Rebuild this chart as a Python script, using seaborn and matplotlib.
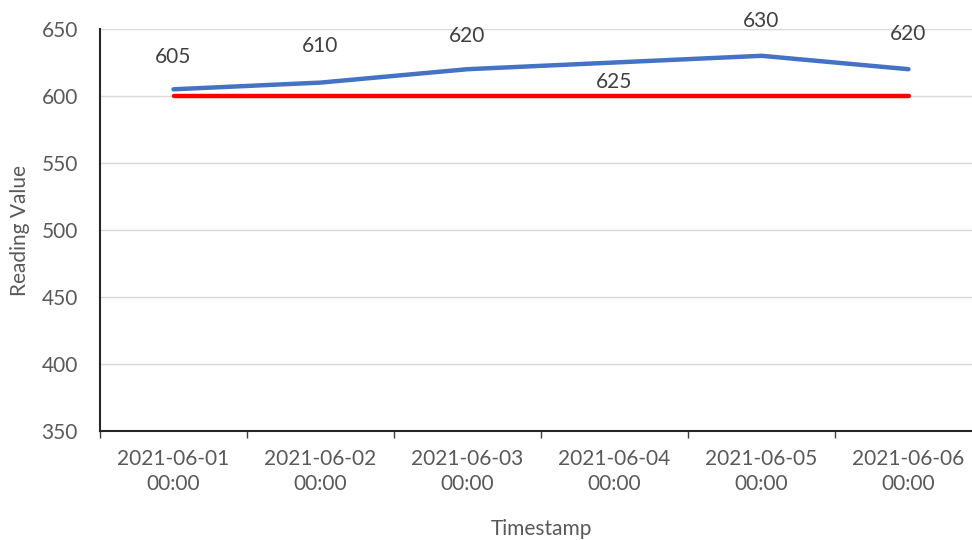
import matplotlib
matplotlib.use("Agg")
import matplotlib.pyplot as plt
import seaborn as sns
import pandas as pd
from matplotlib.ticker import FixedLocator, NullFormatter

timestamps = ["2021-06-01\n00:00", "2021-06-02\n00:00", "2021-06-03\n00:00",
              "2021-06-04\n00:00", "2021-06-05\n00:00", "2021-06-06\n00:00"]
readings = [605, 610, 620, 625, 630, 620]
threshold = [600, 600, 600, 600, 600, 600]
y_ticks = [350, 400, 450, 500, 550, 600, 650]

sns.set_theme(style="white")
plt.rcParams['font.family'] = ['Lato', 'DejaVu Sans']

df = pd.DataFrame({"Timestamp": timestamps, "Reading": readings, "Threshold": threshold})

fig = plt.figure(figsize=(9.72, 5.4), dpi=100)
ax = fig.add_axes([100/972, 1 - 431/540, 882/972, (431 - 29)/540])

sns.lineplot(data=df, x="Timestamp", y="Threshold", ax=ax, color="#FF0000",
             linewidth=3.2, sort=False, zorder=3)
sns.lineplot(data=df, x="Timestamp", y="Reading", ax=ax, color="#4472C4",
             linewidth=3.2, sort=False, zorder=4)

label_offsets = [23, 26, 24, -14, 25, 25]
for i, (v, off) in enumerate(zip(readings, label_offsets)):
    ax.annotate(str(v), (i, v), xytext=(0, off), textcoords="offset points",
                ha="center", va="center", fontsize=15, color="#404040", zorder=5)

ax.set_xlim(-0.5, len(timestamps) - 0.5)
ax.set_ylim(350, 650)
ax.set_yticks(y_ticks)
ax.yaxis.grid(True, color="#D9D9D9", linewidth=1)
ax.set_axisbelow(True)

ax.set_xticks(range(len(timestamps)))
ax.set_xticklabels(timestamps, fontsize=15, color="#595959", linespacing=1.3)
ax.xaxis.set_minor_locator(FixedLocator([i - 0.5 for i in range(len(timestamps) + 1)]))
ax.xaxis.set_minor_formatter(NullFormatter())
ax.tick_params(axis="x", which="major", length=0, pad=13)
ax.tick_params(axis="x", which="minor", length=5, width=1, color="#404040", bottom=True)
ax.tick_params(axis="y", length=0, labelsize=15, labelcolor="#595959", pad=16)

for s in ["top", "right"]:
    ax.spines[s].set_visible(False)
for s in ["left", "bottom"]:
    ax.spines[s].set_color("#262626")
    ax.spines[s].set_linewidth(1.5)

ax.set_xlabel("Timestamp", fontsize=15, color="#595959", labelpad=18)
ax.set_ylabel("Reading Value", fontsize=15, color="#595959", labelpad=8)

fig.savefig("out.png", dpi=100)
